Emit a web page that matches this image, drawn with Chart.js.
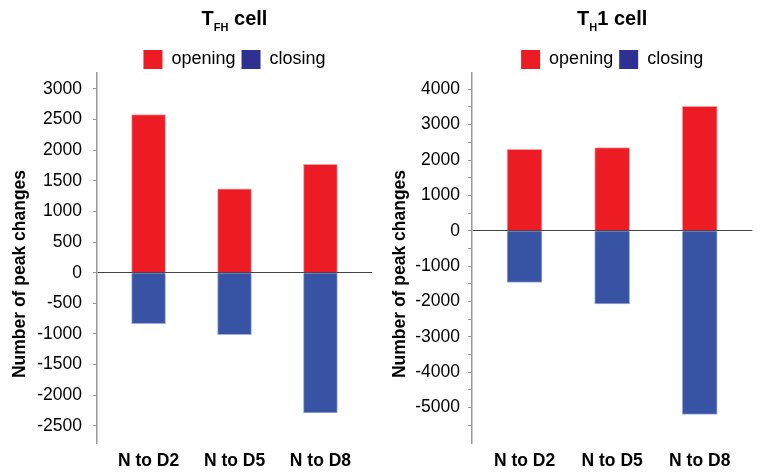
<!DOCTYPE html>
<html>
<head>
<meta charset="utf-8">
<script src="https://cdn.jsdelivr.net/npm/chart.js@4.4.0/dist/chart.umd.min.js"></script>
<style>
    html, body { margin: 0; padding: 0; background: #fff; }
    #wrap { position: relative; width: 761px; height: 475px; }
    canvas { position: absolute; top: 0; }
</style>
</head>
<body>
<div id="wrap">
    <canvas id="tfh-chart" width="380" height="475" style="left:0"></canvas>
    <canvas id="th1-chart" width="381" height="475" style="left:380px"></canvas>
</div>
<script>
    // Data
    const categories = ["N to D2", "N to D5", "N to D8"];
    const tfhOpening = [2580, 1370, 1770];
    const tfhClosing = [-830, -1010, -2290];
    const th1Opening = [2300, 2350, 3520];
    const th1Closing = [-1460, -2070, -5190];

    // Tick positions (labels only where value is a multiple of the label step)
    const tfhTicks = [-2500, -2000, -1500, -1000, -500, 0, 500, 1000, 1500, 2000, 2500, 3000];
    const th1Ticks = [-5500, -5000, -4500, -4000, -3500, -3000, -2500, -2000, -1500, -1000, -500,
                      0, 500, 1000, 1500, 2000, 2500, 3000, 3500, 4000];

    const FONT = '"Liberation Sans", Arial, sans-serif';
    const RED = "#ed1c24";
    const BLUE = "#3953a4";
    const LEGEND_COLORS = [RED, "#2e3192"];

    // Draws the panel title (with subscript) and the rotated y-axis title,
    // and trims the legend box height so the plot starts right under it
    const panelText = {
        id: "panelText",
        beforeLayout(chart, args, opts) {
            const legend = chart.legend;
            if (legend && !legend._trimmed) {
                const fit = legend.fit;
                legend.fit = function () {
                    fit.call(this);
                    this.height = opts.legendHeight;
                };
                legend._trimmed = true;
            }
        },
        afterDraw(chart, args, opts) {
            const ctx = chart.ctx;
            const area = chart.chartArea;
            ctx.save();
            ctx.fillStyle = "#000";
            ctx.textBaseline = "alphabetic";
            ctx.textAlign = "left";

            let total = 0;
            const parts = opts.title.map(p => {
                ctx.font = `bold ${p.size}px ${FONT}`;
                const w = ctx.measureText(p.text).width;
                total += w;
                return Object.assign({ w }, p);
            });
            let x = (area.left + area.right) / 2 - total / 2;
            parts.forEach(p => {
                ctx.font = `bold ${p.size}px ${FONT}`;
                ctx.fillText(p.text, x, 25 + p.dy);
                x += p.w;
            });

            ctx.translate(20, (area.top + area.bottom) / 2 + 16);
            ctx.rotate(-Math.PI / 2);
            ctx.textAlign = "center";
            ctx.textBaseline = "middle";
            ctx.font = `bold 17.5px ${FONT}`;
            ctx.fillText(opts.yTitle, 0, 0);
            ctx.restore();
        }
    };

    function makeChart(id, cfg) {
        const ctx = document.getElementById(id).getContext("2d");
        return new Chart(ctx, {
            type: "bar",
            data: {
                datasets: [{
                    label: "opening",
                    data: cfg.opening.map((v, i) => ({ x: i, y: v })),
                    backgroundColor: RED,
                    borderColor: "#f6a3a6",
                    borderWidth: 1,
                    barThickness: cfg.barWidth
                }, {
                    label: "closing",
                    data: cfg.closing.map((v, i) => ({ x: i, y: v })),
                    backgroundColor: BLUE,
                    borderColor: "#9fb0dd",
                    borderWidth: 1,
                    barThickness: cfg.barWidth
                }]
            },
            options: {
                responsive: false,
                animation: false,
                layout: { padding: { top: 44, right: cfg.padRight, left: 0, bottom: 0 } },
                scales: {
                    x: {
                        type: "linear",
                        min: -0.6,
                        max: 2.6,
                        offset: false,
                        stacked: true,
                        afterBuildTicks: s => { s.ticks = categories.map((c, i) => ({ value: i })); },
                        ticks: {
                            callback: v => categories[v],
                            font: { family: FONT, size: 17.5, weight: "bold" },
                            color: "#000",
                            padding: 8,
                            maxRotation: 0,
                            autoSkip: false
                        },
                        grid: { display: false, drawTicks: false },
                        border: { display: false },
                        afterFit: s => { s.height = 32; }
                    },
                    y: {
                        min: cfg.min,
                        max: cfg.max,
                        stacked: true,
                        afterBuildTicks: s => { s.ticks = cfg.ticks.map(v => ({ value: v })); },
                        ticks: {
                            callback: v => (v % cfg.labelStep === 0 ? String(v) : ""),
                            font: { family: FONT, size: 17.5 },
                            color: "#000",
                            padding: cfg.tickPad,
                            autoSkip: false
                        },
                        grid: {
                            color: c => (c.tick && c.tick.value === 0 ? "#444" : "rgba(0,0,0,0)"),
                            tickColor: "#999",
                            tickLength: 4,
                            lineWidth: 1
                        },
                        border: { display: true, color: "#999", width: 1.5 },
                        afterFit: s => { s.width = cfg.axisWidth; }
                    }
                },
                plugins: {
                    legend: {
                        position: "top",
                        fullSize: false,
                        labels: {
                            boxWidth: 19,
                            boxHeight: 19,
                            padding: 6,
                            color: "#000",
                            font: { family: FONT, size: 18 },
                            generateLabels: chart => chart.data.datasets.map((d, i) => ({
                                text: d.label,
                                fillStyle: LEGEND_COLORS[i],
                                strokeStyle: LEGEND_COLORS[i],
                                lineWidth: 0,
                                hidden: false,
                                datasetIndex: i
                            }))
                        }
                    },
                    tooltip: { enabled: false },
                    panelText: { title: cfg.title, yTitle: "Number of peak changes", legendHeight: 29 }
                }
            },
            plugins: [panelText]
        });
    }

    makeChart("tfh-chart", {
        opening: tfhOpening,
        closing: tfhClosing,
        ticks: tfhTicks,
        labelStep: 500,
        min: -2780,
        max: 3260,
        axisWidth: 97,
        padRight: 8,
        tickPad: 11,
        barWidth: 34,
        title: [
            { text: "T", size: 20, dy: 0 },
            { text: "FH", size: 11, dy: 6 },
            { text: " cell", size: 20, dy: 0 }
        ]
    });

    makeChart("th1-chart", {
        opening: th1Opening,
        closing: th1Closing,
        ticks: th1Ticks,
        labelStep: 1000,
        min: -6000,
        max: 4460,
        axisWidth: 92,
        padRight: 8.7,
        tickPad: 8,
        barWidth: 35,
        title: [
            { text: "T", size: 20, dy: 0 },
            { text: "H", size: 11, dy: 6 },
            { text: "1 cell", size: 20, dy: 0 }
        ]
    });
</script>
</body>
</html>
